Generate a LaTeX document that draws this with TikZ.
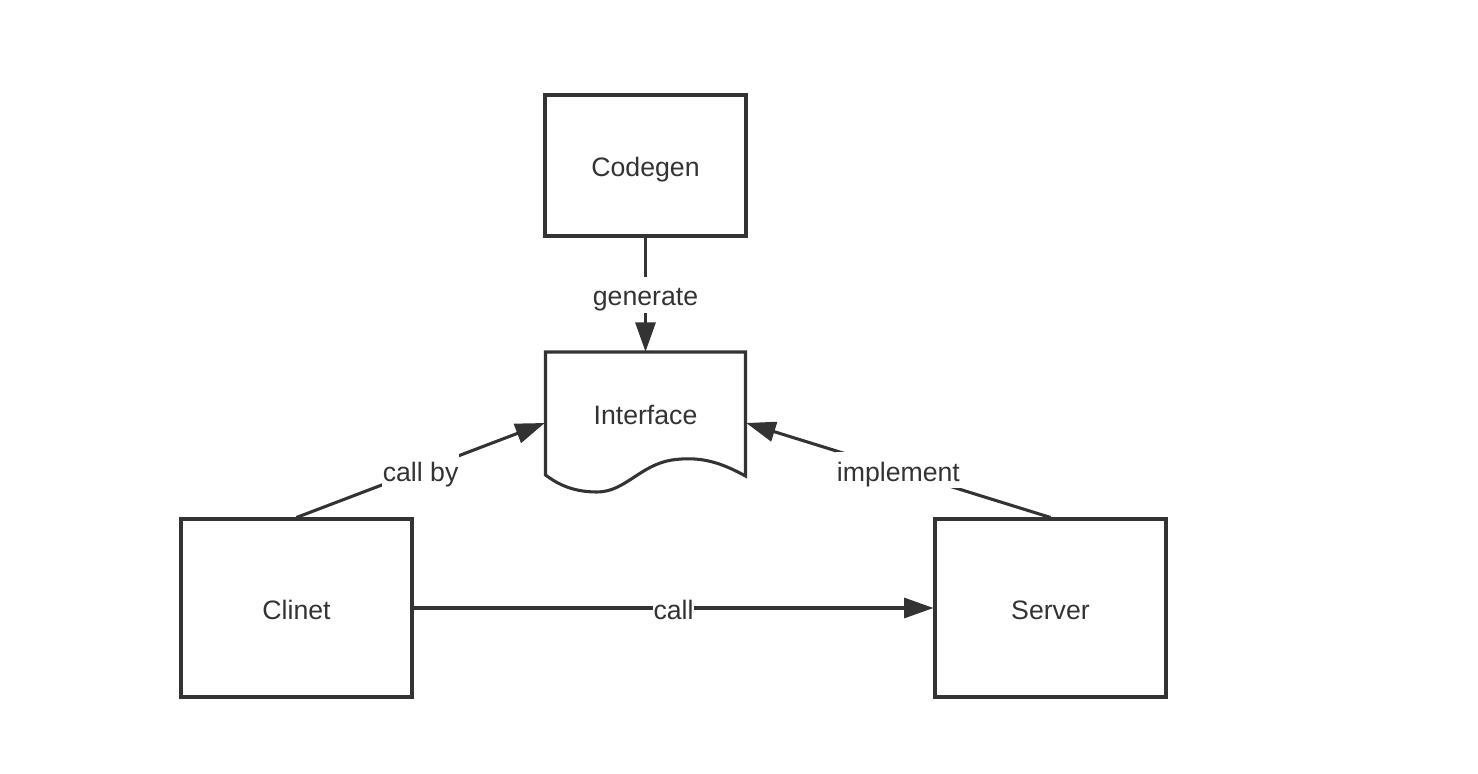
\documentclass[tikz,border=0pt]{standalone}
\usepackage{fontspec}
\setmainfont{Liberation Sans}
\usetikzlibrary{arrows.meta}
\definecolor{ink}{HTML}{333333}
\begin{document}
\begin{tikzpicture}[x=0.75pt,y=-0.75pt,
  txt/.style={text=ink,font=\fontsize{20}{22}\selectfont,text height=21.5pt,text depth=4.5pt},
  box/.style={txt,draw=ink,line width=2.3pt,minimum width=231*0.75pt,minimum height=178*0.75pt,inner sep=0pt},
  conn/.style={draw=ink,line width=2.3pt,-{Triangle[length=22pt,width=15pt]}},
  lbl/.style={txt,fill=white,inner sep=0.5pt}]
\useasboundingbox (0,0) rectangle (1478,774);
\node[box,minimum width=201*0.75pt,minimum height=141*0.75pt] (codegen) at (645.5,165.5) {Codegen};
\node[inner sep=0pt,minimum width=201*0.75pt,minimum height=142*0.75pt] (interface) at (645.5,423) {};
\draw[ink,line width=2.3pt,line join=miter] (545.5,475) -- (545.5,352) -- (745.5,352) -- (745.5,476)
  .. controls (720,462) and (700,456) .. (672,460)
  .. controls (640,465) and (625,492) .. (597,492)
  .. controls (570,492) and (555,482) .. cycle;
\node[txt] (itext) at (645.5,413) {Interface};
\node[box] (clinet) at (296.5,608) {Clinet};
\node[box] (server) at (1050.5,608) {Server};
\draw[conn] (codegen.south) -- node[lbl]{generate} (interface.north);
\draw[conn] (clinet.north) -- node[lbl]{call by} (interface.west);
\draw[conn] (server.north) -- node[lbl]{implement} (interface.east);
\draw[conn] (clinet.east) -- node[lbl]{call} (server.west);
\end{tikzpicture}
\end{document}
